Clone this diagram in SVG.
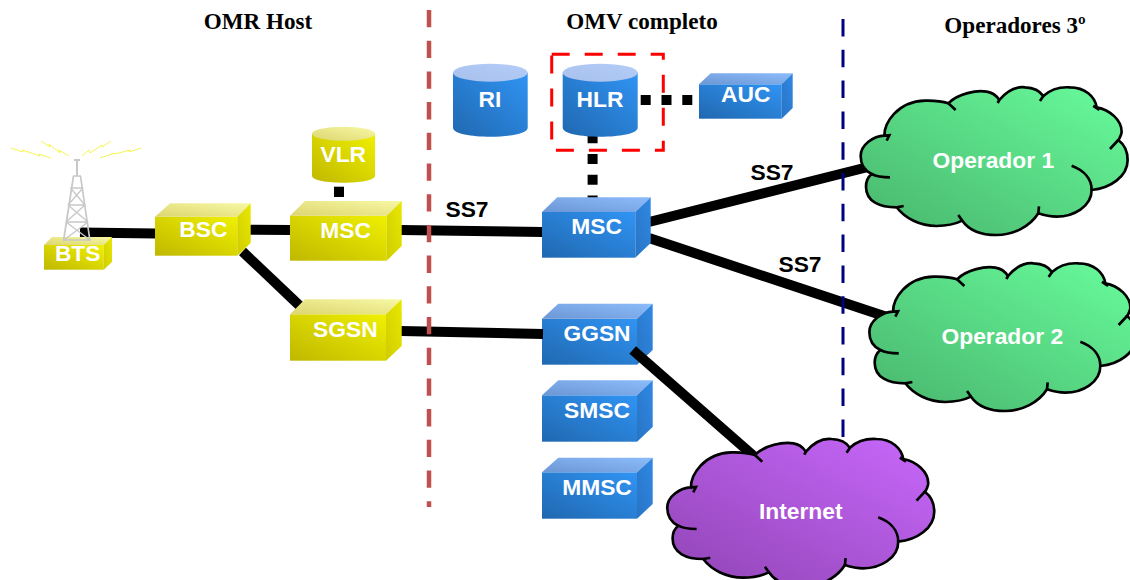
<svg xmlns="http://www.w3.org/2000/svg" xmlns:xlink="http://www.w3.org/1999/xlink" width="1130" height="580" viewBox="0 0 1130 580">
<style>
text{font-family:"Liberation Sans",Arial,sans-serif;font-weight:bold;font-size:22.8px;text-anchor:middle}
.w{fill:#fff}
.k{fill:#000}
.h{font-family:"Liberation Serif","Times New Roman",serif;font-size:23.1px;fill:#000}
.link{stroke:#000;stroke-width:10;fill:none}
.dot{stroke:#000;stroke-width:10;fill:none;stroke-dasharray:10 10.8}
.yf{fill:url(#yf)}.yt{fill:url(#yt)}.ys{fill:url(#ys)}
.bf{fill:url(#bf)}.bt{fill:url(#bt)}.bs{fill:url(#bs)}
.tw{stroke:#c8c8c8;stroke-width:1.3;fill:none}
.bolt{stroke:#f4f43c;stroke-width:.9;fill:none}
.cl-line{fill:none;stroke:#000;stroke-width:8}
</style>
<defs>
<linearGradient id="yf" x1="0" y1="1" x2="1" y2="0"><stop offset="0" stop-color="#bfb800"/><stop offset="1" stop-color="#f0f000"/></linearGradient>
<linearGradient id="yt" x1="0" y1="1" x2="1" y2="0"><stop offset="0" stop-color="#dcd670"/><stop offset="1" stop-color="#f8f8a4"/></linearGradient>
<linearGradient id="ys" x1="0" y1="1" x2="1" y2="0"><stop offset="0" stop-color="#d0cc00"/><stop offset="1" stop-color="#e8e800"/></linearGradient>
<linearGradient id="bf" x1="0" y1="1" x2="1" y2="0"><stop offset="0" stop-color="#2068b0"/><stop offset="1" stop-color="#3094f4"/></linearGradient>
<linearGradient id="bt" x1="0" y1="1" x2="1" y2="0"><stop offset="0" stop-color="#6c96d4"/><stop offset="1" stop-color="#8cbcfc"/></linearGradient>
<linearGradient id="bs" x1="0" y1="1" x2="1" y2="0"><stop offset="0" stop-color="#2874c4"/><stop offset="1" stop-color="#3088e4"/></linearGradient>
<linearGradient id="ct" x1="0" y1="1" x2="1" y2="0"><stop offset="0" stop-color="#a8c0ec"/><stop offset="1" stop-color="#b4ccf8"/></linearGradient>
<linearGradient id="cg" x1="0" y1="1" x2="1" y2="0"><stop offset="0" stop-color="#48b46c"/><stop offset="1" stop-color="#68fc9c"/></linearGradient>
<linearGradient id="cp" x1="0" y1="1" x2="1" y2="0"><stop offset="0" stop-color="#9044b4"/><stop offset="1" stop-color="#c868fc"/></linearGradient>
<g id="cloud">
<path stroke="#000" stroke-width="8" d="M163 197C163 160 200 95 285 92C320 91 340 95 355 100C385 70 440 60 470 65C490 68 500 78 508 90C535 58 565 50 585 52C610 53 630 63 640 78C660 60 690 50 720 52C765 52 795 80 800 112C840 120 875 150 875 185C875 190 870 205 865 210C885 225 893 250 893 270C893 320 840 355 785 360C785 410 730 440 680 440C660 440 640 435 625 430C600 470 550 495 500 495C450 495 415 478 397 452C370 465 345 468 320 468C270 468 225 445 200 412C150 412 108 395 108 350C108 335 115 320 125 312C100 300 92 280 92 258C92 225 130 198 163 197Z"/>
<path class="cl-line" d="M355 100L377 120M508 90L503 99M640 78L630 93M800 112L790 108L808 120M865 210L840 237M785 360C785 325 760 300 725 287M625 430L627 409M397 452L385 435M200 412L221 408M125 312C140 320 160 322 180 322M163 197L178 196L170 212"/>
</g>
</defs>

<g id="node-GGSN"><rect class="bf" x="542" y="318.700" width="95" height="46"/><polygon class="bt" points="542,318.700 558.300,303.700 652.700,303.700 637,318.700"/><polygon class="bs" points="637,318.700 652.700,303.700 652.700,350 637,364.700"/><text class="w" x="597" y="340.700">GGSN</text></g>

<g id="connectors">
<line class="link" x1="80" y1="232.500" x2="156" y2="233.500"/>
<line class="link" x1="250" y1="229.700" x2="291" y2="230"/>
<line class="link" x1="401" y1="230" x2="543" y2="232"/>
<line class="link" x1="242.500" y1="251.500" x2="302" y2="308"/>
<line class="link" x1="401" y1="331" x2="543" y2="334"/>
<line class="link" x1="649" y1="222" x2="868" y2="167"/>
<line class="link" x1="649" y1="238" x2="890" y2="318"/>
<line class="link" x1="632.700" y1="350" x2="756" y2="458" stroke-width="11"/>
<line class="link" x1="339" y1="186.700" x2="339" y2="197"/>
<line class="dot" x1="640.700" y1="100" x2="692.400" y2="100"/>
<line class="dot" x1="592.600" y1="133.200" x2="592.600" y2="198"/>
</g>

<g id="dividers">
<line x1="429" y1="10" x2="429" y2="507" stroke="#c0504d" stroke-width="4.500" stroke-dasharray="17.300 13.400"/>
<line x1="843" y1="19" x2="843" y2="441" stroke="#000080" stroke-width="3" stroke-dasharray="17.500 13.300"/>
</g>

<g id="node-BTS"><rect class="yf" x="44" y="245" width="59.700" height="24.700"/><polygon class="yt" points="44,245 52,237 112,237 103.700,245"/><polygon class="ys" points="103.700,245 112,237 112,262 103.700,269.700"/>
<g class="tw">
<path stroke-width="2" d="M77 160V176M74 160H80"/>
<path stroke-width="1.700" d="M73.500 176L63.500 241M80.500 176L90 241"/>
<path d="M73 176H81M70.500 188H83M68 205H85M66 222H88M64 240H90M70.500 188L85 205M83 188L68 205M68 205L88 222M85 205L66 222M66 222L90 240M88 222L64 240"/>
</g>
<g class="bolt"><path d="M11 148L23 152L22.500 150L40 156L39 154L51 158M41 141L50 147L49 144L60 153L59 150L69 156M82 156L89 150L90 153L102 145L102 147L111 141M100 158L115 153L115 154L130 150L129 152L141 148"/></g>
<text class="w" x="77.700" y="260.700">BTS</text></g>

<g id="node-BSC"><rect class="yf" x="155" y="216.700" width="82.300" height="39"/><polygon class="yt" points="155,216.700 170,203.300 250.700,203.300 237.300,216.700"/><polygon class="ys" points="237.300,216.700 250.700,203.300 250.700,243 237.300,255.700"/><text class="w" x="203.300" y="236.700">BSC</text></g>

<g id="node-MSC-host"><rect class="yf" x="290" y="215.700" width="96.700" height="45"/><polygon class="yt" points="290,215.700 305,201 401.700,201 386.700,215.700"/><polygon class="ys" points="386.700,215.700 401.700,201 401.700,246 386.700,260.700"/><text class="w" x="345.700" y="237.700">MSC</text></g>

<g id="node-SGSN"><rect class="yf" x="290" y="314.300" width="96" height="46.400"/><polygon class="yt" points="290,314.300 305,299.300 401.700,299.300 386,314.300"/><polygon class="ys" points="386,314.300 401.700,299.300 401.700,346 386,360.700"/><text class="w" x="345.300" y="336.700">SGSN</text></g>

<g id="node-VLR"><path class="yf" d="M312 133.700V175.700C312 185 375 185 375 175.700V133.700Z"/><ellipse class="yt" cx="343.500" cy="133.700" rx="31.500" ry="7"/><text class="w" x="343.300" y="161.700">VLR</text></g>

<g id="node-RI"><path class="bf" d="M453 72.700V127.700C453 139.700 527.700 139.700 527.700 127.700V72.700Z"/><ellipse fill="url(#ct)" cx="490.300" cy="72.700" rx="37.300" ry="9"/><text class="w" x="490" y="106.700">RI</text></g>

<g id="node-HLR"><path class="bf" d="M562.700 72.700V127.700C562.700 139.700 637.700 139.700 637.700 127.700V72.700Z"/><ellipse fill="url(#ct)" cx="600.200" cy="72.700" rx="37.500" ry="9"/><text class="w" x="600" y="106.700">HLR</text></g>

<rect id="hlr-box" x="551.700" y="54.300" width="111.600" height="96" fill="none" stroke="#f00" stroke-width="3" stroke-dasharray="18 15"/>

<g id="node-AUC"><rect class="bf" x="699" y="84.300" width="82.700" height="34.400"/><polygon class="bt" points="699,84.300 710.700,73.300 792.700,73.300 781.700,84.300"/><polygon class="bs" points="781.700,84.300 792.700,73.300 792.700,108 781.700,118.700"/><text class="w" x="745.700" y="102.300">AUC</text></g>

<g id="node-MSC"><rect class="bf" x="542" y="212" width="93.300" height="45.700"/><polygon class="bt" points="542,212 557.300,197.300 650.700,197.300 635.300,212"/><polygon class="bs" points="635.300,212 650.700,197.300 650.700,243 635.300,257.700"/><text class="w" x="596.700" y="234.300">MSC</text></g>

<g id="node-SMSC"><rect class="bf" x="542" y="395.300" width="95" height="46.400"/><polygon class="bt" points="542,395.300 558.300,380.300 652.700,380.300 637,395.300"/><polygon class="bs" points="637,395.300 652.700,380.300 652.700,427 637,441.700"/><text class="w" x="597" y="418">SMSC</text></g>

<g id="node-MMSC"><rect class="bf" x="542" y="472.300" width="95" height="46.400"/><polygon class="bt" points="542,472.300 558.300,457.700 652.700,457.700 637,472.300"/><polygon class="bs" points="637,472.300 652.700,457.700 652.700,504 637,518.700"/><text class="w" x="597" y="494.700">MMSC</text></g>

<g id="node-Operador1"><use xlink:href="#cloud" href="#cloud" fill="url(#cg)" transform="translate(830 70) scale(.3333)"/><text class="w" x="993.300" y="168.300">Operador 1</text></g>
<g id="node-Operador2"><use xlink:href="#cloud" href="#cloud" fill="url(#cg)" transform="translate(838.700 246) scale(.3333)"/><text class="w" x="1002.300" y="344">Operador 2</text></g>
<g id="node-Internet"><use xlink:href="#cloud" href="#cloud" fill="url(#cp)" transform="translate(636.600 421.700) scale(.3333)"/><text class="w" x="800.700" y="518.700">Internet</text></g>

<g id="labels">
<text class="k" x="467" y="217">SS7</text>
<text class="k" x="772" y="180">SS7</text>
<text class="k" x="800" y="272">SS7</text>
<text class="h" x="258" y="29">OMR Host</text>
<text class="h" x="642" y="29">OMV completo</text>
<text class="h" x="1015" y="33">Operadores 3º</text>
</g>
</svg>
